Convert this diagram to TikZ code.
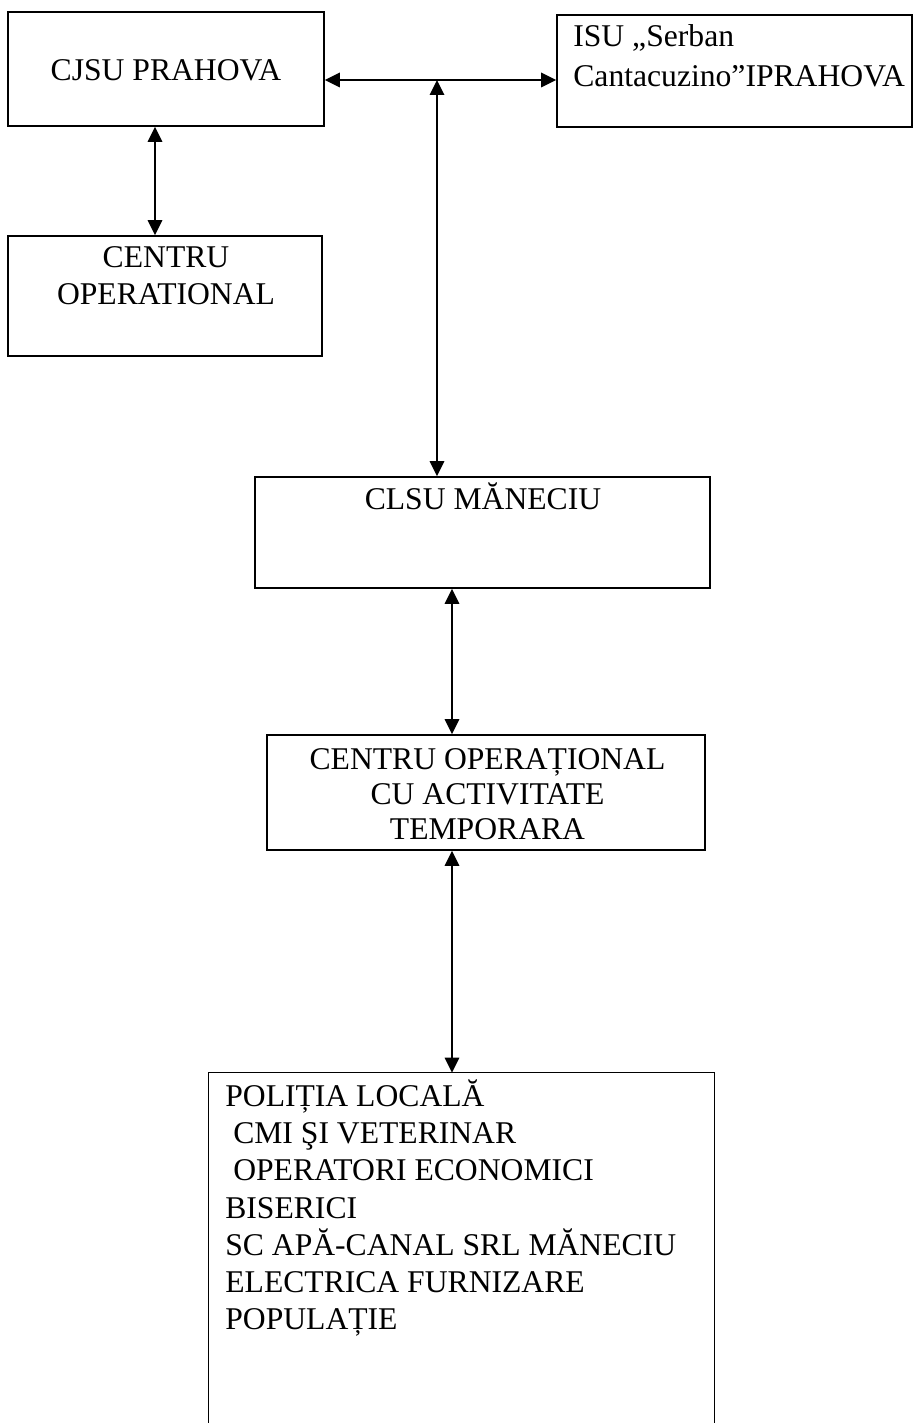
\documentclass[tikz,border=0pt]{standalone}
\usepackage{fontspec}
\setmainfont{Liberation Serif}
\usepackage{tikz}
\usetikzlibrary{arrows.meta,positioning,calc}

\tikzset{
	box/.style={draw, line width=0.9pt, inner sep=0pt},
	txt/.style={font=\fontsize{18}{21.2}\selectfont, inner sep=0pt, anchor=base},
	link/.style={{Triangle[length=3mm,width=2.9mm]}-{Triangle[length=3mm,width=2.9mm]}, line width=1pt}
}

\begin{document}
\begin{tikzpicture}
	\useasboundingbox (0,0) rectangle (18.3,28.46);

	% Boxes
	\node [box, minimum width=6.32cm, minimum height=2.28cm] (cjsu) at (3.32,27.08) {};
	\node [box, minimum width=7.1cm, minimum height=2.24cm] (isu) at (14.69,27.04) {};
	\node [box, minimum width=6.28cm, minimum height=2.4cm] (centru) at (3.30,22.54) {};
	\node [box, minimum width=9.1cm, minimum height=2.22cm] (clsu) at (9.65,17.81) {};
	\node [box, minimum width=8.76cm, minimum height=2.3cm] (cot) at (9.72,12.61) {};
	\node [inner sep=0pt, minimum width=10.1cm, minimum height=7cm] (actori) at (9.23,3.5) {};
	\draw [line width=0.9pt] (actori.south west) -- (actori.north west) -- (actori.north east) -- (actori.south east);

	% Texts (base of a multi-line node is its last line)
	\node [txt] (cjsutext) at (3.32,26.84) {CJSU PRAHOVA};
	\node [txt, anchor=base west, align=left, font=\fontsize{18}{22.8}\selectfont] (isutext) at (11.46,26.72) {ISU „Serban\\Cantacuzino”IPRAHOVA};
	\node [txt, align=center, font=\fontsize{18}{21.5}\selectfont] (centrutext) at (3.32,22.36) {CENTRU\\OPERATIONAL};
	\node [txt] (clsutext) at (9.66,18.26) {CLSU MĂNECIU};
	\node [txt, align=center, font=\fontsize{18}{20}\selectfont] (cottext) at (9.75,11.66) {CENTRU OPERAȚIONAL\\CU ACTIVITATE\\TEMPORARA};
	\node [txt, anchor=base west, align=left] (actoritext) at (4.5,1.86) {POLIȚIA LOCALĂ\\\hspace*{.25em}CMI ŞI VETERINAR\\\hspace*{.25em}OPERATORI ECONOMICI\\BISERICI\\SC APĂ-CANAL SRL MĂNECIU\\ELECTRICA FURNIZARE\\POPULAȚIE};

	% Connectors
	\coordinate (junction) at (8.74,26.86);
	\draw [link] (cjsu.east |- junction) -- (isu.west |- junction);
	\draw [link] (junction) -- (junction |- clsu.north);
	\draw [link] ([xshift=-2.2mm]cjsu.south) -- ([xshift=-2.2mm]cjsu.south |- centru.north);
	\draw [link] ([xshift=-6.1mm]clsu.south) -- ([xshift=-6.1mm]clsu.south |- cot.north);
	\draw [link] ([xshift=-6.8mm]cot.south) -- ([xshift=-6.8mm]cot.south |- actori.north);
\end{tikzpicture}
\end{document}
